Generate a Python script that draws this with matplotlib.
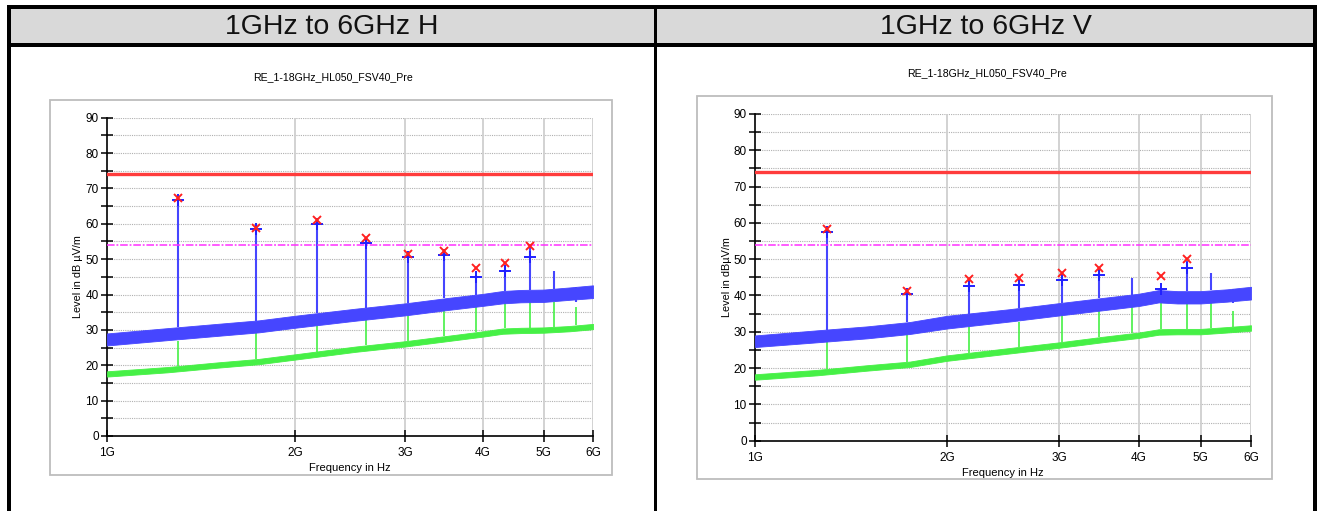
import numpy as np
import matplotlib
matplotlib.use("Agg")
import matplotlib.pyplot as plt
from matplotlib.patches import Rectangle
from matplotlib.ticker import FixedLocator, NullFormatter, NullLocator

plt.rcParams['font.family'] = ['Liberation Sans', 'DejaVu Sans']

W, H = 1318, 511

# ---------------- data ----------------
headers = ["1GHz to 6GHz H", "1GHz to 6GHz V"]
chart_title = "RE_1-18GHz_HL050_FSV40_Pre"
ylabels = ["Level in dB µV/m", "Level in dBµV/m"]
xlabel = "Frequency in Hz"
xtick_vals = [1e9, 2e9, 3e9, 4e9, 5e9, 6e9]
xtick_labels = ["1G", "2G", "3G", "4G", "5G", "6G"]
limit_peak = 74.0
limit_avg = 54.0

# trace read points (GHz)
trace_f = [1.0, 1.25, 1.5, 1.75, 2.0, 2.5, 3.0, 3.5, 4.0, 4.3, 4.6, 5.0, 5.5, 6.0]
h_peak_lo = [25.6, 27.1, 28.3, 29.3, 30.6, 32.6, 34.1, 35.6, 36.8, 37.5, 37.8, 37.9, 38.5, 39.0]
h_peak_hi = [29.0, 30.5, 31.7, 32.7, 34.0, 36.0, 37.5, 39.0, 40.2, 41.0, 41.3, 41.4, 42.0, 42.6]
h_avg_lo = [16.8, 18.0, 19.3, 20.3, 21.6, 23.8, 25.3, 26.8, 28.1, 28.9, 29.1, 29.2, 29.6, 30.2]
h_avg_hi = [18.3, 19.5, 20.8, 21.8, 23.1, 25.3, 26.8, 28.3, 29.6, 30.4, 30.6, 30.7, 31.1, 31.7]
v_peak_lo = [25.8, 27.1, 28.2, 29.4, 30.9, 32.8, 34.5, 35.9, 37.1, 38.1, 37.8, 37.8, 38.3, 38.9]
v_peak_hi = [29.0, 30.4, 31.5, 32.7, 34.4, 36.2, 37.9, 39.3, 40.5, 41.5, 41.2, 41.2, 41.7, 42.4]
v_avg_lo = [16.8, 18.0, 19.3, 20.3, 22.0, 24.0, 25.6, 27.1, 28.3, 29.2, 29.3, 29.3, 29.8, 30.3]
v_avg_hi = [18.3, 19.5, 20.8, 21.8, 23.5, 25.5, 27.1, 28.6, 29.8, 30.7, 30.8, 30.8, 31.3, 31.8]

# harmonic spikes (GHz)
spike_f = [1.299, 1.732, 2.165, 2.598, 3.031, 3.464, 3.897, 4.330, 4.763, 5.196, 5.629]
h_peak_spike = [67.0, 58.6, 61.0, 55.6, 51.4, 52.2, 45.5, 48.2, 53.5, 46.6, 38.0]
h_avg_spike = [27.0, 31.0, 34.0, 32.8, 35.0, 36.6, 37.0, 38.0, 38.5, 38.0, 36.6]
v_peak_spike = [57.9, 41.0, 43.5, 44.5, 45.5, 47.0, 44.7, 42.0, 49.5, 46.1, 38.0]
v_avg_spike = [29.0, 31.0, 33.0, 32.8, 34.6, 36.0, 36.9, 37.8, 38.3, 38.3, 35.8]

# markers: final (red x) and peak (blue +)
mark_f = [1.299, 1.732, 2.165, 2.598, 3.031, 3.464, 3.897, 4.330, 4.763]
h_final = [67.2, 58.9, 61.1, 55.9, 51.5, 52.3, 47.4, 48.8, 53.7]
h_peakmark = [66.7, 58.4, 60.0, 54.5, 50.7, 51.3, 45.0, 46.7, 50.6]
v_mark_f = [1.299, 1.732, 2.165, 2.598, 3.031, 3.464, 4.330, 4.763]
v_final = [58.2, 41.2, 44.5, 44.9, 46.1, 47.5, 45.5, 50.0]
v_peakmark = [57.6, 40.4, 42.6, 42.9, 44.3, 45.6, 41.7, 47.7]

# ---------------- styling ----------------
BLUE = "#4646ff"
GREEN = "#46f046"
RED = "#ff3c3c"
MAG = "#ff30ff"

fig = plt.figure(figsize=(W / 100, H / 100), dpi=100)


def rect_px(x, y, w, h, **kw):
    r = Rectangle((x / W, 1 - (y + h) / H), w / W, h / H,
                  transform=fig.transFigure, **kw)
    fig.add_artist(r)
    return r


def ax_px(x0, x1, ytop, ybot):
    return fig.add_axes([x0 / W, 1 - ybot / H, (x1 - x0) / W, (ybot - ytop) / H])


# table
rect_px(11, 9, 1302, 34, facecolor="#d9d9d9", edgecolor="none", zorder=0)
rect_px(7, 5, 1310, 4, facecolor="black", edgecolor="none")
rect_px(7, 43, 1310, 4, facecolor="black", edgecolor="none")
rect_px(7, 5, 4, 506, facecolor="black", edgecolor="none")
rect_px(1313, 5, 4, 506, facecolor="black", edgecolor="none")
rect_px(654, 5, 2.5, 506, facecolor="black", edgecolor="none")
fig.text(332 / W, 1 - 27 / H, headers[0], ha="center", va="center", fontsize=20.5,
         color="#111111")
fig.text(986 / W, 1 - 27 / H, headers[1], ha="center", va="center", fontsize=20.5,
         color="#111111")

panels = [
    dict(frame=(50, 100, 562, 375), axes=(107, 593, 117.7, 436), title_xy=(333, 77),
         ylab_x=78, xlab_y=468,
         plo=h_peak_lo, phi=h_peak_hi, alo=h_avg_lo, ahi=h_avg_hi,
         pspk=h_peak_spike, aspk=h_avg_spike, mf=mark_f, fin=h_final, pm=h_peakmark,
         ylabel=ylabels[0]),
    dict(frame=(697, 96, 575, 383), axes=(755, 1251, 114, 440.7), title_xy=(987, 73),
         ylab_x=727, xlab_y=473,
         plo=v_peak_lo, phi=v_peak_hi, alo=v_avg_lo, ahi=v_avg_hi,
         pspk=v_peak_spike, aspk=v_avg_spike, mf=v_mark_f, fin=v_final, pm=v_peakmark,
         ylabel=ylabels[1]),
]

for p in panels:
    fx, fy, fw, fh = p["frame"]
    rect_px(fx, fy, fw, fh, facecolor="white", edgecolor="#bdbdbd", linewidth=1.3, zorder=1)
    fig.text(p["title_xy"][0] / W, 1 - p["title_xy"][1] / H, chart_title,
             ha="center", va="center", fontsize=7.6, zorder=3)
    x0, x1, yt, yb = p["axes"]
    ax = ax_px(x0, x1, yt, yb)
    ax.set_zorder(2)
    ax.patch.set_alpha(0)
    ax.set_xscale("log")
    ax.set_xlim(1e9, 6e9)
    ax.set_ylim(0, 90)

    f_hz = np.array(trace_f) * 1e9
    sf = np.array(spike_f) * 1e9
    # average trace + spikes
    ax.fill_between(f_hz, p["alo"], p["ahi"], color=GREEN, lw=0.6, zorder=3)
    abase = np.interp(np.log(sf), np.log(f_hz), p["ahi"])
    ax.vlines(sf, abase, p["aspk"], color=GREEN, lw=1.2, zorder=3)
    # peak trace + spikes
    ax.fill_between(f_hz, p["plo"], p["phi"], color=BLUE, lw=0.6, zorder=4)
    pbase = np.interp(np.log(sf), np.log(f_hz), p["phi"])
    ax.vlines(sf, pbase, p["pspk"], color=BLUE, lw=1.5, zorder=4)
    # limits
    ax.axhline(limit_peak, color=RED, lw=2.4, zorder=5)
    ax.axhline(limit_avg, color=MAG, lw=1.1, dashes=(5, 1.2, 1.2, 1.2), zorder=5)
    # markers
    mf = np.array(p["mf"]) * 1e9
    ax.plot(mf, p["pm"], ls="none", marker="+", ms=8, mew=1.4, color="#2020ff", zorder=6)
    ax.plot(mf, p["fin"], ls="none", marker="x", ms=5.5, mew=1.4, color="#ff2020", zorder=7)

    # grid
    for yv in range(5, 91, 5):
        ax.axhline(yv, color="#b0b0b0", lw=0.8, ls=(0, (1, 1)), zorder=1)
    for xv in xtick_vals[1:]:
        ax.axvline(xv, color="#cfcfcf", lw=1.3, zorder=1)

    for s in ["top", "right"]:
        ax.spines[s].set_visible(False)
    for s in ["left", "bottom"]:
        ax.spines[s].set_linewidth(1.2)
        ax.spines[s].set_color("black")
    ax.xaxis.set_major_locator(FixedLocator(xtick_vals))
    ax.xaxis.set_minor_locator(NullLocator())
    ax.set_xticklabels(xtick_labels)
    ax.xaxis.set_minor_formatter(NullFormatter())
    ax.set_yticks(range(0, 91, 10))
    ax.set_yticks(range(5, 90, 10), minor=True)
    ax.tick_params(axis="both", which="both", direction="inout", length=8, width=1.1,
                   labelsize=8.5, pad=2, colors="black")
    ax.tick_params(axis="x", pad=4)

    fig.text(p["ylab_x"] / W, 1 - (yt + yb) / 2 / H, p["ylabel"], rotation=90,
             ha="center", va="center", fontsize=7.8)
    fig.text((x0 + x1) / 2 / W, 1 - p["xlab_y"] / H, xlabel,
             ha="center", va="center", fontsize=8)

fig.savefig("out.png", dpi=100)
